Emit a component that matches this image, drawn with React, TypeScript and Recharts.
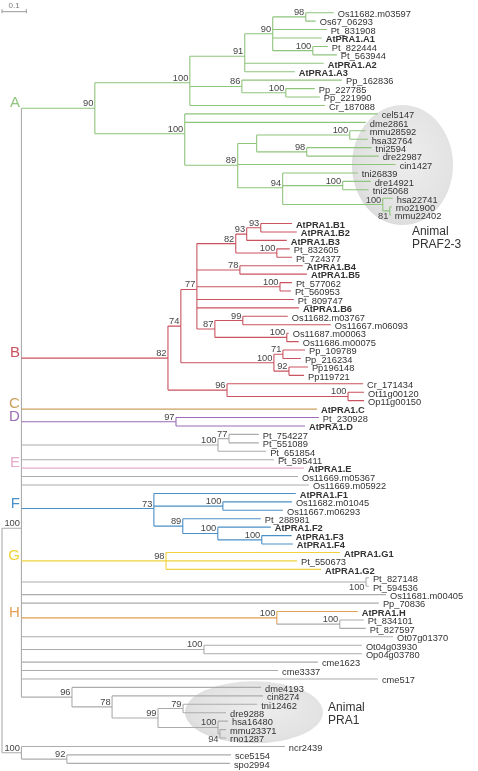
import React from 'react';
import { ComposedChart, Line, Scatter, XAxis, YAxis, ReferenceArea } from 'recharts';

// [node, parent, branch length (subst./site), bootstrap]
type Row = [string, string, number, number?];

const treeRoot: Row[] = [
  ['N0', 'root', 0.08, 100],
  ['F0', 'root', 0.08, 100],
];

const cladeA: Row[] = [
  ['A', 'N0', 0.302, 90],
  ['A.p', 'A', 0.391, 100],
  ['A.91', 'A.p', 0.226, 91],
  ['A.90', 'A.91', 0.115, 90],
  ['A.98', 'A.90', 0.136, 98],
  ['Os11682.m03597', 'A.98', 0.115],
  ['Os67_06293', 'A.98', 0.041],
  ['Pt_831908', 'A.90', 0.222],
  ['AtPRA1.A1', 'A.90', 0.202],
  ['A.100a', 'A.90', 0.165, 100],
  ['Pt_822444', 'A.100a', 0.062],
  ['Pt_563944', 'A.100a', 0.099],
  ['AtPRA1.A2', 'A.91', 0.325],
  ['AtPRA1.A3', 'A.91', 0.206],
  ['A.86', 'A.p', 0.214, 86],
  ['Pp_162836', 'A.86', 0.412],
  ['A.100b', 'A.86', 0.181, 100],
  ['Pp_227785', 'A.100b', 0.119],
  ['Pp_221990', 'A.100b', 0.14],
  ['Cr_187088', 'A.p', 0.556],
];

const animalPRAF: Row[] = [
  ['An', 'A', 0.37, 100],
  ['cel5147', 'An', 0.794],
  ['dme2861', 'An', 0.745],
  ['An.89', 'An', 0.218, 89],
  ['An.x', 'An.89', 0.078],
  ['An.100a', 'An.x', 0.383, 100],
  ['mmu28592', 'An.100a', 0.066],
  ['hsa32764', 'An.100a', 0.074],
  ['An.98', 'An.x', 0.206, 98],
  ['tni2594', 'An.98', 0.267],
  ['dre22987', 'An.98', 0.296],
  ['cin1427', 'An.89', 0.65],
  ['An.94', 'An.89', 0.185, 94],
  ['tni26839', 'An.94', 0.309],
  ['An.100b', 'An.94', 0.247, 100],
  ['dre14921', 'An.100b', 0.115],
  ['tni25068', 'An.100b', 0.107],
  ['An.100c', 'An.94', 0.412, 100],
  ['hsa22741', 'An.100c', 0.041],
  ['An.81', 'An.100c', 0.029, 81],
  ['rno21900', 'An.81', 0.008],
  ['mmu22402', 'An.81', 0.004],
];

const cladeB: Row[] = [
  ['B', 'N0', 0.603, 82],
  ['B.74', 'B', 0.053, 74],
  ['B.77', 'B.74', 0.066, 77],
  ['B.82', 'B.77', 0.16, 82],
  ['B.93a', 'B.82', 0.045, 93],
  ['B.93b', 'B.93a', 0.058, 93],
  ['AtPRA1.B1', 'B.93b', 0.128],
  ['AtPRA1.B2', 'B.93b', 0.148],
  ['AtPRA1.B3', 'B.93a', 0.165],
  ['B.100a', 'B.82', 0.169, 100],
  ['Pt_832605', 'B.100a', 0.053],
  ['Pt_724377', 'B.100a', 0.062],
  ['B.78', 'B.77', 0.177, 78],
  ['AtPRA1.B4', 'B.78', 0.259],
  ['AtPRA1.B5', 'B.78', 0.276],
  ['B.100b', 'B.77', 0.342, 100],
  ['Pt_577062', 'B.100b', 0.049],
  ['Pt_560953', 'B.100b', 0.045],
  ['Pt_809747', 'B.77', 0.399],
  ['AtPRA1.B6', 'B.77', 0.42],
  ['B.87', 'B.77', 0.074, 87],
  ['B.99', 'B.87', 0.115, 99],
  ['Os11682.m03767', 'B.99', 0.185],
  ['Os11667.m06093', 'B.99', 0.362],
  ['B.100c', 'B.87', 0.296, 100],
  ['Os11687.m00063', 'B.100c', 0.008],
  ['Os11686.m00075', 'B.100c', 0.049],
  ['B.100d', 'B.74', 0.383, 100],
  ['B.71', 'B.100d', 0.037, 71],
  ['Pp_109789', 'B.71', 0.091],
  ['Pp_216234', 'B.71', 0.074],
  ['B.92', 'B.100d', 0.062, 92],
  ['Pp196148', 'B.92', 0.078],
  ['Pp119721', 'B.92', 0.062],
  ['B.96', 'B', 0.243, 96],
  ['Cr_171434', 'B.96', 0.56],
  ['B.100e', 'B.96', 0.498, 100],
  ['Ot11g00120', 'B.100e', 0.066],
  ['Op11g00150', 'B.100e', 0.066],
];

const cladesCD: Row[] = [
  ['AtPRA1.C', 'N0', 1.216],
  ['D', 'N0', 0.636, 97],
  ['Pt_230928', 'D', 0.588],
  ['AtPRA1.D', 'D', 0.531],
];

const cladeE: Row[] = [
  ['E.100', 'N0', 0.809, 100],
  ['E.77', 'E.100', 0.045, 77],
  ['Pt_754227', 'E.77', 0.123],
  ['Pt_551089', 'E.77', 0.123],
  ['Pt_651854', 'E.100', 0.198],
  ['Pt_595411', 'N0', 1.039],
  ['AtPRA1.E', 'N0', 1.163],
  ['Os11669.m05367', 'N0', 1.138],
  ['Os11669.m05922', 'N0', 1.183],
];

const cladeF: Row[] = [
  ['F', 'N0', 0.545, 73],
  ['AtPRA1.F1', 'F', 0.584],
  ['F.100a', 'F', 0.284, 100],
  ['Os11682.m01045', 'F.100a', 0.284],
  ['Os11667.m06293', 'F.100a', 0.247],
  ['F.89', 'F', 0.119, 89],
  ['Pt_288981', 'F.89', 0.321],
  ['F.100b', 'F.89', 0.144, 100],
  ['AtPRA1.F2', 'F.100b', 0.218],
  ['F.100c', 'F.100b', 0.181, 100],
  ['AtPRA1.F3', 'F.100c', 0.123],
  ['AtPRA1.F4', 'F.100c', 0.128],
];

const cladeG: Row[] = [
  ['G', 'N0', 0.595, 98],
  ['AtPRA1.G1', 'G', 0.716],
  ['Pt_550673', 'G', 0.539],
  ['AtPRA1.G2', 'G', 0.638],
];

const looseA: Row[] = [
  ['U.100', 'N0', 1.418, 100],
  ['Pt_827148', 'U.100', 0.012],
  ['Pt_594536', 'U.100', 0.012],
  ['Os11681.m00405', 'N0', 1.5],
  ['Pp_70836', 'N0', 1.471],
];

const cladeH: Row[] = [
  ['H', 'N0', 1.051, 100],
  ['AtPRA1.H', 'H', 0.333],
  ['H.100', 'H', 0.259, 100],
  ['Pt_834101', 'H.100', 0.099],
  ['Pt_827597', 'H.100', 0.107],
];

const looseB: Row[] = [
  ['Ot07g01370', 'N0', 1.529],
  ['U.100b', 'N0', 0.751, 100],
  ['Ot04g03930', 'U.100b', 0.65],
  ['Op04g03780', 'U.100b', 0.65],
  ['cme1623', 'N0', 1.22],
  ['cme3337', 'N0', 1.056],
  ['cme517', 'N0', 1.467],
];

const animalPRA1: Row[] = [
  ['P', 'N0', 0.208, 96],
  ['dme4193', 'P', 0.778],
  ['P.78', 'P', 0.165, 78],
  ['cin8274', 'P.78', 0.621],
  ['P.99', 'P.78', 0.189, 99],
  ['P.79', 'P.99', 0.103, 79],
  ['tni12462', 'P.79', 0.305],
  ['dre9288', 'P.79', 0.177],
  ['P.100', 'P.99', 0.247, 100],
  ['hsa16480', 'P.100', 0.041],
  ['P.94', 'P.100', 0.008, 94],
  ['mmu23371', 'P.94', 0.025],
  ['rno1287', 'P.94', 0.025],
];

const fungi: Row[] = [
  ['ncr2439', 'F0', 1.084],
  ['Fu.92', 'F0', 0.187, 92],
  ['sce5154', 'Fu.92', 0.675],
  ['spo2994', 'Fu.92', 0.671],
];

// [node, colour, colour passes to descendants]
const cladeColors: [string, string, boolean][] = [
  ['A', '#8fc47c', true],
  ['B', '#c9535f', true],
  ['AtPRA1.C', '#c9a15c', false],
  ['D', '#9b6bb3', true],
  ['AtPRA1.E', '#e6aacb', false],
  ['F', '#4b8fc7', true],
  ['G', '#f0d23c', true],
  ['H', '#e1a055', false],
  ['AtPRA1.H', '#e1a055', false],
];

const cladeLetters: [string, string][] = [
  ['A', 'A'], ['B', 'B'], ['C', 'AtPRA1.C'], ['D', 'D'],
  ['E', 'AtPRA1.E'], ['F', 'F'], ['G', 'G'], ['H', 'H'],
];

// bootstrap labels drawn under the node instead of above it
const labelsBelow = ['An.81', 'P.94', 'U.100'];

const groups = [
  { x1: 1.44, x2: 1.856, y1: 10.95, y2: 25.18, lines: ['Animal', 'PRAF2-3'], lx: 1.687, ly: 26.37 },
  { x1: 0.753, x2: 1.321, y1: 79.27, y2: 86.63, lines: ['Animal', 'PRA1'], lx: 1.342, ly: 82.83 },
];

const scaleBar = [{ x: 0, y: -0.12 }, { x: 0.1, y: -0.12 }];

const GRAY = '#acacac';
const FONT = '"Liberation Sans", Arial, sans-serif';
const W = 478;
const H_PX = 771;
const PX_PER_UNIT = 243;
const ROW_PX = 8.434;
const X_DOMAIN = [-2 / PX_PER_UNIT, (W - 2) / PX_PER_UNIT];
const Y_DOMAIN = [-12.7 / ROW_PX, (H_PX - 12.7) / ROW_PX];

type TreeNode = {
  id: string; parent: string; length: number; boot?: number;
  children: TreeNode[]; depth: number; y: number; color: string;
};

function buildTree(rows: Row[]) {
  const map = new Map<string, TreeNode>();
  map.set('root', { id: 'root', parent: '', length: 0, children: [], depth: 0, y: 0, color: GRAY });
  rows.forEach(([id, parent, length, boot]) => {
    map.set(id, { id, parent, length, boot, children: [], depth: 0, y: 0, color: GRAY });
  });
  rows.forEach(([id, parent]) => map.get(parent)!.children.push(map.get(id)!));
  const rules = new Map(cladeColors.map(([id, c, inherit]) => [id, { c, inherit }]));
  const leaves: TreeNode[] = [];
  const walk = (n: TreeNode, depth: number, inherited: string | null) => {
    n.depth = depth;
    const rule = rules.get(n.id);
    n.color = rule ? rule.c : inherited ?? GRAY;
    const pass = rule ? (rule.inherit ? rule.c : null) : inherited;
    if (!n.children.length) {
      n.y = leaves.length;
      leaves.push(n);
      return;
    }
    n.children.forEach((c) => walk(c, depth + c.length, pass));
    n.y = n.children.reduce((s, c) => s + c.y, 0) / n.children.length;
  };
  walk(map.get('root')!, 0, null);
  return { map, leaves };
}

const { map: nodeMap, leaves } = buildTree([
  ...treeRoot, ...cladeA, ...animalPRAF, ...cladeB, ...cladesCD, ...cladeE,
  ...cladeF, ...cladeG, ...looseA, ...cladeH, ...looseB, ...animalPRA1, ...fungi,
]);

type Pt = { x: number; y: number | null };
const branchSets = new Map<string, Pt[]>();
const addSeg = (color: string, x1: number, y1: number, x2: number, y2: number) => {
  if (!branchSets.has(color)) branchSets.set(color, []);
  branchSets.get(color)!.push({ x: x1, y: y1 }, { x: x2, y: y2 }, { x: x2, y: null });
};
nodeMap.forEach((n) => {
  if (n.id !== 'root') addSeg(n.color, nodeMap.get(n.parent)!.depth, n.y, n.depth, n.y);
  if (n.children.length) {
    addSeg(n.color, n.depth, n.children[0].y, n.depth, n.children[n.children.length - 1].y);
  }
});

const leafData = leaves.map((n) => ({ x: n.depth, y: n.y, name: n.id, bold: n.id.startsWith('AtPRA1') }));
const bootData = [...nodeMap.values()]
  .filter((n) => n.boot !== undefined)
  .map((n) => ({ x: n.depth, y: n.y, boot: n.boot, below: labelsBelow.includes(n.id) }));
const letterData = cladeLetters.map(([letter, id]) => ({
  x: nodeMap.get('N0')!.depth, y: nodeMap.get(id)!.y, letter, color: nodeMap.get(id)!.color,
}));
const groupLabelData = groups.map((g) => ({ x: g.lx, y: g.ly, lines: g.lines }));

const LeafLabel = (p: any) => (
  <text x={p.cx + 4} y={p.cy + 4.3} fontSize={9.3} fontFamily={FONT} fill="#333"
    fontWeight={p.payload.bold ? 'bold' : 'normal'}>
    {p.payload.name}
  </text>
);

const BootLabel = (p: any) => (
  <text x={p.cx - 1.5} y={p.payload.below ? p.cy + 8 : p.cy - 2} fontSize={9.3}
    fontFamily={FONT} fill="#444" textAnchor="end">
    {p.payload.boot}
  </text>
);

const LetterLabel = (p: any) => (
  <text x={p.cx - 1.5} y={p.cy - 1} fontSize={15} fontFamily={FONT} fill={p.payload.color} textAnchor="end">
    {p.payload.letter}
  </text>
);

const GroupLabel = (p: any) => (
  <text x={p.cx} y={p.cy} fontSize={12} fontFamily={FONT} fill="#333">
    {p.payload.lines.map((t: string, i: number) => (
      <tspan key={t} x={p.cx} dy={i === 0 ? 0 : 12.5}>{t}</tspan>
    ))}
  </text>
);

// drawn with multiply blending so the branches and names stay visible through it
const GroupEllipse = (p: any) => {
  const w = Math.abs(p.width);
  const h = Math.abs(p.height);
  const x = Math.min(p.x, p.x + p.width);
  const y = Math.min(p.y, p.y + p.height);
  const id = `eg${Math.round(x)}`;
  return (
    <g style={{ mixBlendMode: 'multiply' }}>
      <defs>
        <radialGradient id={id} cx="55%" cy="45%" r="60%">
          <stop offset="0%" stopColor="#ededed" />
          <stop offset="80%" stopColor="#e2e2e2" />
          <stop offset="100%" stopColor="#dadada" />
        </radialGradient>
      </defs>
      <ellipse cx={x + w / 2} cy={y + h / 2} rx={w / 2} ry={h / 2} fill={`url(#${id})`} />
    </g>
  );
};

const ScaleTick = (p: any) => (
  <line key={`t${p.index}`} x1={p.cx} x2={p.cx} y1={p.cy - 2.5} y2={p.cy + 1.5} stroke="#999" strokeWidth={1} />
);

export default function App() {
  return (
    <div style={{ position: 'absolute', left: 0, top: 0, background: '#fff' }}>
      <ComposedChart width={W} height={H_PX} margin={{ top: 0, right: 0, bottom: 0, left: 0 }}>
        <XAxis type="number" dataKey="x" domain={X_DOMAIN} allowDataOverflow hide />
        <YAxis type="number" dataKey="y" domain={Y_DOMAIN} allowDataOverflow reversed hide />
        {groups.map((g) => (
          <ReferenceArea key={g.lines.join()} x1={g.x1} x2={g.x2} y1={g.y1} y2={g.y2} shape={GroupEllipse} />
        ))}
        {[...branchSets.entries()].map(([color, pts]) => (
          <Line key={color} data={pts} dataKey="y" stroke={color} strokeWidth={1.1} dot={false}
            activeDot={false} isAnimationActive={false} connectNulls={false} type="linear" />
        ))}
        <Line data={scaleBar} dataKey="y" stroke="#999" strokeWidth={1} dot={ScaleTick}
          activeDot={false} isAnimationActive={false} />
        <Scatter data={[{ x: 0.05, y: -0.12 }]} isAnimationActive={false}
          shape={(p: any) => (
            <text x={p.cx} y={p.cy - 3.5} fontSize={8} fontFamily={FONT} fill="#777" textAnchor="middle">0.1</text>
          )} />
        <Scatter data={leafData} shape={LeafLabel} isAnimationActive={false} />
        <Scatter data={bootData} shape={BootLabel} isAnimationActive={false} />
        <Scatter data={letterData} shape={LetterLabel} isAnimationActive={false} />
        <Scatter data={groupLabelData} shape={GroupLabel} isAnimationActive={false} />
      </ComposedChart>
    </div>
  );
}
